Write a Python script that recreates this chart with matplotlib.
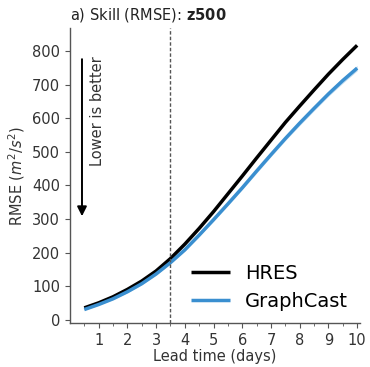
"""z500 RMSE skill curve: HRES vs GraphCast."""

import matplotlib
matplotlib.use("Agg")
import matplotlib.pyplot as plt
import numpy as np

plt.rcParams["font.family"] = ["DejaVu Sans"]

# lead time in days (every 12h)
lead_days = [0.5, 1.0, 1.5, 2.0, 2.5, 3.0, 3.5, 4.0, 4.5, 5.0,
             5.5, 6.0, 6.5, 7.0, 7.5, 8.0, 8.5, 9.0, 9.5, 10.0]
hres_rmse = [35, 50, 68, 90, 115, 145, 182, 225, 272, 322,
             375, 428, 482, 535, 588, 637, 685, 732, 776, 818]
graphcast_rmse = [30, 45, 62, 83, 107, 136, 170, 208, 252, 298,
                  345, 393, 443, 492, 540, 586, 630, 673, 713, 750]
graphcast_spread = [2, 2, 2, 3, 3, 3, 4, 4, 4, 5,
                    5, 5, 6, 6, 6, 7, 7, 7, 8, 8]
xticks = [1, 2, 3, 4, 5, 6, 7, 8, 9, 10]
yticks = [0, 100, 200, 300, 400, 500, 600, 700, 800]

GREY = "#555555"
TEXT = "#333333"
BLUE = "#3a8fd0"
FS = 10.5

fig = plt.figure(figsize=(3.7, 3.67), dpi=100)
ax = fig.add_axes([0.189, 0.12, 0.784, 0.804])

x = np.array(lead_days)
gc = np.array(graphcast_rmse)
sp = np.array(graphcast_spread)

ax.fill_between(x, gc - sp, gc + sp, color=BLUE, alpha=0.3, lw=0)
ax.plot(x, hres_rmse, color="black", lw=2.5, label="HRES", solid_capstyle="butt")
ax.plot(x, gc, color=BLUE, lw=2.5, label="GraphCast", solid_capstyle="butt")

ax.axvline(3.5, color=GREY, ls="--", lw=1, dashes=(2.5, 1.5))

# "Lower is better" arrow
ax.annotate("", xy=(0.42, 300), xytext=(0.42, 785),
            arrowprops=dict(arrowstyle="-|>", color="black", lw=1.4,
                            mutation_scale=14))
ax.text(0.95, 785, "Lower is better", rotation=90, va="top", ha="center",
        fontsize=FS, color=TEXT)

ax.set_xlim(0, 10.1)
ax.set_ylim(-10, 870)
ax.set_xticks(xticks)
ax.set_xticks(np.arange(0.5, 10.1, 0.5), minor=True)
ax.set_yticks(yticks)

for side in ["top", "right"]:
    ax.spines[side].set_visible(False)
for side in ["left", "bottom"]:
    ax.spines[side].set_color(GREY)
    ax.spines[side].set_linewidth(1)
ax.tick_params(axis="both", which="both", colors=GREY, labelcolor=TEXT,
               labelsize=FS)
ax.tick_params(which="minor", length=2)

ax.set_xlabel("Lead time (days)", fontsize=FS, color=TEXT, labelpad=1)
ax.set_ylabel(r"RMSE ($m^2/s^2$)", fontsize=FS, color=TEXT)
ax.set_title(r"a) Skill (RMSE): $\bf{z500}$", loc="left", fontsize=FS,
             color="#222222", pad=6)

ax.legend(loc="lower right", frameon=False, fontsize=14, handlelength=2.0,
          borderaxespad=0.2)

fig.savefig("out.png", dpi=100)
